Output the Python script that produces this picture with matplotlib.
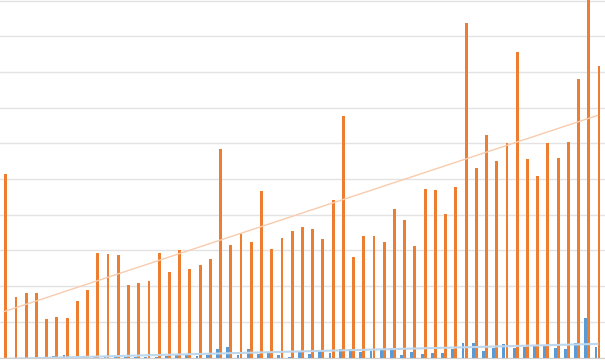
import numpy as np
import matplotlib
matplotlib.use("Agg")
import matplotlib.pyplot as plt

# values (one gridline = 10)
series_a = [0, 0, 0, 0, 0, 0.56, 0.7, 0.14, 0.56, 0.28, 0.28, 0.7, 0.28, 0.28, 0.28,
            0.28, 0.42, 0.84, 0.84, 0.56, 0.84, 2.38, 3.08, 0.84, 2.38, 1.12, 1.26, 0.84, 0.28, 1.68,
            1.12, 1.96, 1.26, 2.38, 2.38, 1.68, 1.96, 2.38, 2.8, 0.7, 1.68, 1.12, 1.26, 1.26, 2.38,
            4.06, 4.2, 1.96, 2.8, 3.78, 2.8, 3.08, 3.22, 3.36, 2.8, 2.52, 4.06, 11.05, 3.08]
series_b = [51.4, 17.0, 18.0, 18.0, 10.7, 11.3, 11.0, 15.7, 18.8, 29.4, 29.0, 28.7, 20.3, 21.0, 21.4,
            29.2, 24.1, 30.2, 24.7, 25.8, 27.7, 58.5, 31.6, 34.7, 32.5, 46.8, 30.3, 33.5, 35.4, 36.7,
            35.9, 33.2, 44.1, 67.8, 28.3, 34.0, 34.0, 32.5, 41.7, 38.4, 31.3, 47.2, 46.9, 40.1, 47.7,
            93.7, 53.0, 62.4, 55.0, 60.0, 85.6, 55.5, 51.0, 60.0, 55.9, 60.3, 78.1, 103.0, 81.6]

blue = "#5B9BD5"
orange = "#ED7D31"

x = np.arange(len(series_b))
w = 0.28

fig = plt.figure(figsize=(6.05, 3.6), dpi=100)
ax = fig.add_axes([0, 2.5 / 360, 1, 357.5 / 360])

ax.bar(x - 0.15, series_a, width=w, color=blue, zorder=2)
ax.bar(x + 0.15, series_b, width=w, color=orange, zorder=2)

# linear trendlines like the spreadsheet
ka = np.polyfit(x, series_a, 1)
kb = np.polyfit(x, series_b, 1)
ax.plot(x, np.polyval(kb, x), color="#F8CBAD", linewidth=1.0, zorder=3)
ax.plot(x, np.polyval(ka, x), color="#BDD7EE", linewidth=1.5, zorder=3)

ax.set_xlim(-0.41, 58.73)
ax.set_ylim(0, 100.2)
ax.set_yticks(np.arange(0, 101, 10))
ax.grid(axis="y", color="#E3E3E3", linewidth=1.0, zorder=0)
ax.set_axisbelow(True)
for s in ["top", "left", "right"]:
    ax.spines[s].set_visible(False)
ax.spines["bottom"].set_color("#D0D0D0")
ax.tick_params(left=False, bottom=False, labelleft=False, labelbottom=False)

fig.savefig("out.png", dpi=100)
